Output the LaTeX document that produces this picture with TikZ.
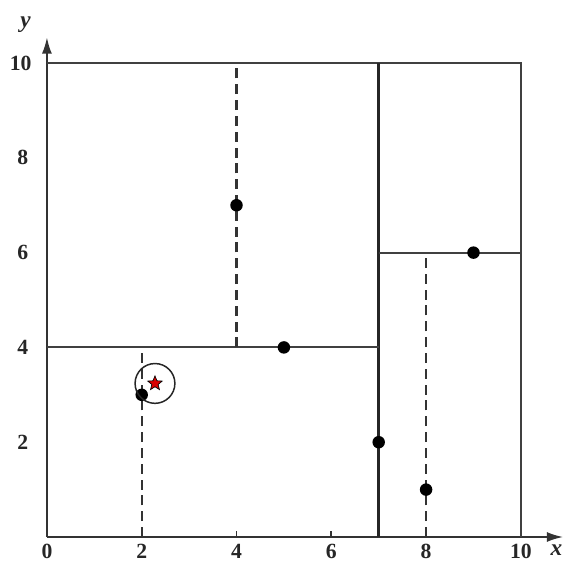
\documentclass[tikz,border=0pt]{standalone}
\usepackage{fontspec}
\setmainfont{Liberation Serif}
\usetikzlibrary{shapes.geometric,arrows.meta}
\tikzset{
  axisline/.style={line width=1.4pt, draw=black!80, -{Latex[length=10pt,width=6pt]}},
  splitline/.style={line width=1.2pt, draw=black!75},
  mainsplit/.style={line width=1.8pt, draw=black!85},
  dashline/.style={line width=1.3pt, draw=black!80, dash pattern=on 6pt off 3.5pt},
  datapt/.style={circle, fill=black, inner sep=0pt, minimum size=7.5pt},
  lbl/.style={font=\fontsize{13}{15}\selectfont\bfseries, text=black!85},
  axlbl/.style={font=\fontsize{14}{16}\selectfont\bfseries\itshape, text=black!85}
}
\begin{document}
\begin{tikzpicture}[x=1cm,y=1cm]
\useasboundingbox (-0.99,-0.865) rectangle (11.12,11.33);
\coordinate (O) at (0,0);
\coordinate (xend) at (10.9,0);
\coordinate (yend) at (0,10.55);
% axes
\draw[axisline] (O) -- (xend);
\draw[axisline] (O) -- (yend);
% outer box
\draw[splitline] (0,10) -- (10,10) -- (10,0);
% splits
\draw[mainsplit] (7,0) -- (7,10);
\draw[splitline] (0,4) -- (7,4);
\draw[splitline] (7,6) -- (10,6);
\draw[dashline] (4,4) -- (4,10);
\draw[dashline] (2,0) -- (2,4);
\draw[dashline] (8,0) -- (8,6);
% ticks
\foreach \t in {4,6} \draw[line width=1.1pt, black!80] (\t,0) -- (\t,0.12);
% points
\node[datapt] (p1) at (2,3) {};
\node[datapt] (p2) at (4,7) {};
\node[datapt] (p3) at (5,4) {};
\node[datapt] (p4) at (7,2) {};
\node[datapt] (p5) at (8,1) {};
\node[datapt] (p6) at (9,6) {};
% query
\node[circle, draw=black!85, line width=0.9pt, minimum size=0.84cm, inner sep=0pt] (qc) at (2.28,3.24) {};
\node[star, star points=5, star point ratio=2.3, fill=red!85!black, draw=black, line width=0.4pt, minimum size=0.32cm, inner sep=0pt] (q) at (2.28,3.24) {};
% labels
\node[lbl] (x0) at (0,-0.3) {0};
\foreach \v in {2,4,6,8,10} \node[lbl] (xl\v) at (\v,-0.3) {\v};
\foreach \v in {2,4,6,8} \node[lbl, anchor=east] (yl\v) at (-0.27,\v) {\v};
\node[lbl, anchor=east] (yl10) at (-0.2,10) {10};
\node[axlbl] (xlab) at (10.75,-0.27) {x};
\node[axlbl] (ylab) at (-0.45,10.8) {y};
\end{tikzpicture}
\end{document}
